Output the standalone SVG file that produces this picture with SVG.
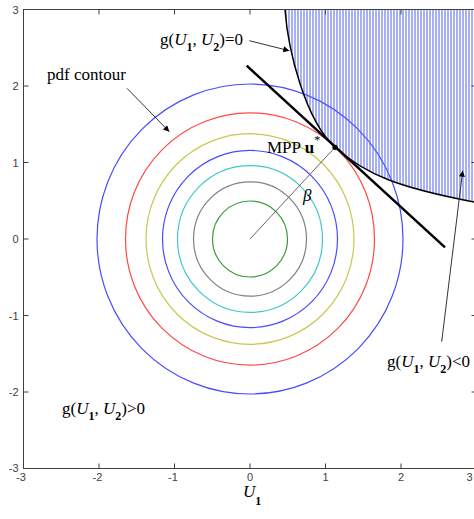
<svg xmlns="http://www.w3.org/2000/svg" width="474" height="519" viewBox="0 0 474 519">
<style>
.tick{stroke:#404040;stroke-width:1;fill:none}
.tl{font-family:"Liberation Sans",Arial,sans-serif;font-size:11px;fill:#404040}
.lbl{font-family:"Liberation Serif","Times New Roman",serif;font-size:17px;fill:#000}
.sub{font-size:12px;font-weight:bold}
.ct{fill:none;stroke-width:1.2}
.arr{stroke:#333;stroke-width:1;fill:none;marker-end:url(#ah)}
</style>
<defs>
<pattern id="hatch" patternUnits="userSpaceOnUse" x="0" y="0" width="3" height="10">
<line x1="1" y1="0" x2="1" y2="10" stroke="#5062ee" stroke-width="1"/>
</pattern>
<marker id="ah" viewBox="0 0 10 10" refX="10" refY="5" markerWidth="9" markerHeight="6" markerUnits="userSpaceOnUse" orient="auto">
<path d="M0,0 L10,5 L0,10 Z" fill="#000"/>
</marker>
</defs>
<rect width="474" height="519" fill="#fff"/>
<g id="contours">
<ellipse class="ct" cx="250" cy="239" rx="37.5" ry="38" stroke="#3a9a3a"/>
<ellipse class="ct" cx="250" cy="239" rx="56.5" ry="57.2" stroke="#808080"/>
<ellipse class="ct" cx="250" cy="239" rx="72.5" ry="73.4" stroke="#40c8c8"/>
<ellipse class="ct" cx="250" cy="239" rx="87.5" ry="88.6" stroke="#4a4aff"/>
<ellipse class="ct" cx="250" cy="239" rx="104" ry="105.3" stroke="#c8c850"/>
<ellipse class="ct" cx="250" cy="239" rx="124.5" ry="126.1" stroke="#ff4848"/>
<ellipse class="ct" cx="250" cy="239" rx="153" ry="155" stroke="#4a4aff"/>
</g>
<g id="failure-region">
<path d="M285,9.5 C288,50 305,120 335,147.3 C365,174.8 400,188 476.5,202.5 L476.5,9.5 Z" fill="url(#hatch)"/>
</g>
<g id="connectors">
<line x1="250" y1="239" x2="335" y2="147.3" stroke="#666" stroke-width="1"/>
<path d="M285,9.5 C288,50 305,120 335,147.3 C365,174.8 400,188 476.5,202.5" fill="none" stroke="#000" stroke-width="1.5"/>
<line x1="246.7" y1="65.7" x2="445" y2="247.3" stroke="#000" stroke-width="2.5"/>
<line class="arr" x1="127" y1="88.3" x2="169.3" y2="131.7"/>
<line class="arr" x1="249.3" y1="40.7" x2="289.3" y2="50.7"/>
<line class="arr" x1="441.7" y1="341.7" x2="462.7" y2="170.7"/>
</g>
<g id="mpp">
<circle cx="335" cy="147.3" r="2.6" fill="#000"/>
<text class="lbl" x="267" y="153">MPP <tspan font-weight="bold">u</tspan><tspan font-size="12" dy="-9">*</tspan></text>
</g>
<g id="beta"><text class="lbl" x="303" y="201" font-style="italic">β</text></g>
<g id="pdf-label"><text class="lbl" x="47" y="80">pdf contour</text></g>
<g id="g-zero">
<text class="lbl" x="160" y="44.5">g(<tspan font-style="italic">U</tspan><tspan class="sub" dy="6">1</tspan><tspan dy="-6">, </tspan><tspan font-style="italic">U</tspan><tspan class="sub" dy="6">2</tspan><tspan dy="-6">)=0</tspan></text>
</g>
<g id="g-neg">
<text class="lbl" x="387" y="367">g(<tspan font-style="italic">U</tspan><tspan class="sub" dy="6">1</tspan><tspan dy="-6">, </tspan><tspan font-style="italic">U</tspan><tspan class="sub" dy="6">2</tspan><tspan dy="-6">)&lt;0</tspan></text>
</g>
<g id="g-pos">
<text class="lbl" x="62" y="414">g(<tspan font-style="italic">U</tspan><tspan class="sub" dy="6">1</tspan><tspan dy="-6">, </tspan><tspan font-style="italic">U</tspan><tspan class="sub" dy="6">2</tspan><tspan dy="-6">)&gt;0</tspan></text>
</g>
<g id="axes">
<rect class="tick" x="23.5" y="9.5" width="453" height="459"/>
<path class="tick" d="M99,468.5v-5M174.5,468.5v-5M250,468.5v-5M325.5,468.5v-5M401,468.5v-5M99,9.5v5M174.5,9.5v5M250,9.5v5M325.5,9.5v5M401,9.5v5M23.5,86h5M23.5,162.5h5M23.5,239h5M23.5,315.5h5M23.5,392h5M476.5,86h-5M476.5,162.5h-5M476.5,239h-5M476.5,315.5h-5M476.5,392h-5"/>
<g class="tl" text-anchor="middle">
<text x="18.5" y="13.5" text-anchor="end">3</text>
<text x="18.5" y="90" text-anchor="end">2</text>
<text x="18.5" y="166.5" text-anchor="end">1</text>
<text x="18.5" y="243" text-anchor="end">0</text>
<text x="18.5" y="319.5" text-anchor="end">-1</text>
<text x="18.5" y="396" text-anchor="end">-2</text>
<text x="18.5" y="472" text-anchor="end">-3</text>
<text x="21" y="481">-3</text>
<text x="97.5" y="481">-2</text>
<text x="173" y="481">-1</text>
<text x="250" y="481">0</text>
<text x="325.5" y="481">1</text>
<text x="401" y="481">2</text>
<text x="469.5" y="481">3</text>
</g>
<text class="lbl" x="243" y="497"><tspan font-style="italic">U</tspan><tspan class="sub" font-size="13" dy="8">1</tspan></text>
</g>
</svg>
